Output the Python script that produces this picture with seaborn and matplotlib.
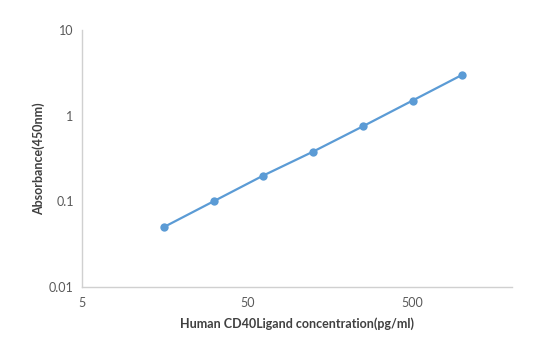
import matplotlib
matplotlib.use("Agg")
import matplotlib.pyplot as plt
from matplotlib.ticker import FixedLocator, FixedFormatter, NullFormatter
import seaborn as sns
import pandas as pd

concentration = [15.625, 31.25, 62.5, 125, 250, 500, 1000]
absorbance = [0.05, 0.10, 0.20, 0.38, 0.75, 1.50, 3.00]
x_major = [5, 50, 500]
x_major_labels = ["5", "50", "500"]
x_minor = [10, 15, 20, 25, 30, 35, 40, 45,
           100, 150, 200, 250, 300, 350, 400, 450,
           1000, 1500, 2000]
y_major = [0.01, 0.1, 1, 10]
y_major_labels = ["0.01", "0.1", "1", "10"]

sns.set_style("white")
plt.rcParams['font.family'] = ['Lato', 'DejaVu Sans']

df = pd.DataFrame({"conc": concentration, "od": absorbance})

fig = plt.figure(figsize=(5.37, 3.55), dpi=100)
ax = fig.add_axes([82/537, 1-287/355, (512-82)/537, (287-30)/355])

sns.lineplot(data=df, x="conc", y="od", ax=ax, color="#5B9BD5",
             marker="o", markersize=6, markeredgewidth=0, linewidth=1.6)

ax.set_xscale("log")
ax.set_yscale("log")
ax.set_xlim(5, 2000)
ax.set_ylim(0.01, 10)

ax.xaxis.set_major_locator(FixedLocator(x_major))
ax.xaxis.set_major_formatter(FixedFormatter(x_major_labels))
ax.xaxis.set_minor_locator(FixedLocator(x_minor))
ax.xaxis.set_minor_formatter(NullFormatter())
ax.yaxis.set_major_locator(FixedLocator(y_major))
ax.yaxis.set_major_formatter(FixedFormatter(y_major_labels))
ax.yaxis.set_minor_locator(FixedLocator(
    [m * d for d in [0.01, 0.1, 1] for m in range(2, 10)]))
ax.yaxis.set_minor_formatter(NullFormatter())

axis_col = "#d0d0d0"
for s in ["top", "right"]:
    ax.spines[s].set_visible(False)
for s in ["left", "bottom"]:
    ax.spines[s].set_color(axis_col)
    ax.spines[s].set_linewidth(1.0)

ax.tick_params(axis="both", which="major", direction="in", length=5,
               width=1, color=axis_col, labelsize=9, labelcolor="#595959")
ax.tick_params(axis="both", which="minor", direction="in", length=3,
               width=1, color=axis_col)
ax.tick_params(axis="x", which="major", pad=7)
ax.tick_params(axis="y", which="major", pad=6)

ax.set_xlabel("Human CD40Ligand concentration(pg/ml)", fontsize=9,
              fontweight="bold", color="#404040", labelpad=6)
ax.set_ylabel("Absorbance(450nm)", fontsize=9, fontweight="bold",
              color="#404040", labelpad=3)

fig.savefig("out.png", dpi=100)
